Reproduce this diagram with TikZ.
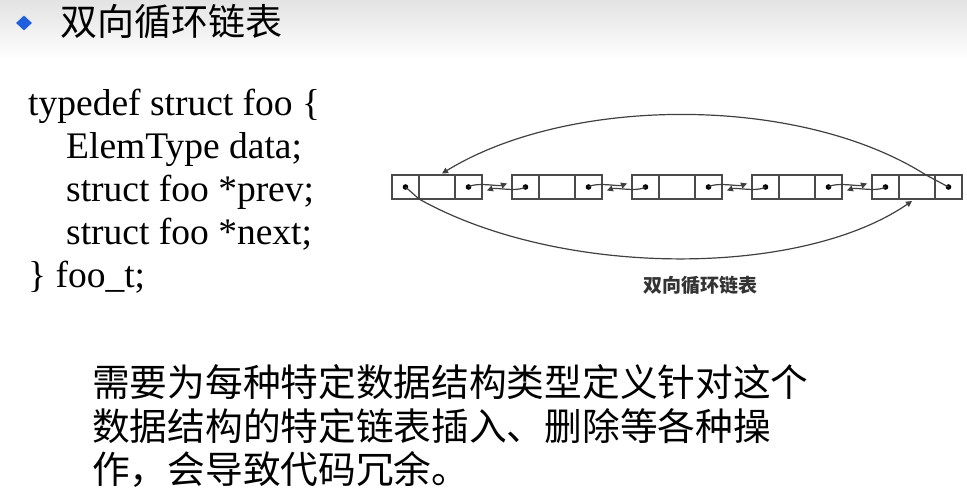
\documentclass[tikz,border=0pt]{standalone}
\usepackage{fontspec}
\setmainfont{Liberation Serif}
\newfontfamily\cjk{Noto Sans CJK SC}
\usetikzlibrary{positioning,shapes.geometric,arrows.meta}
\definecolor{bulletblue}{HTML}{1F5FE0}
\definecolor{boxgray}{HTML}{4A4A4A}
\begin{document}
\begin{tikzpicture}[x=1pt, y=1pt,
    ptrcell/.style={draw=boxgray, line width=1.1pt, minimum width=27pt, minimum height=24pt, inner sep=0pt, outer sep=0pt},
    datacell/.style={ptrcell, minimum width=36pt},
    link/.style={draw=black!75, line width=1.2pt, -{Triangle[length=6pt,width=6pt]}},
    codetext/.style={font=\fontsize{37.5}{43}\selectfont, align=left, inner sep=0pt},
    cjktext/.style={font=\cjk\fontsize{37.7}{43.5}\selectfont, align=left, inner sep=0pt}]
  \useasboundingbox (0,0) rectangle (967,500);
  \shade[top color=gray!22, bottom color=white] (0,440) rectangle (967,500);
  % title
  \node[diamond, fill=bulletblue, inner sep=0pt, minimum width=16pt, minimum height=15pt] (bullet) at (24,477) {};
  \node[font=\cjk\fontsize{37}{40}\selectfont, anchor=west, inner sep=0pt] (title) at (60,478) {双向循环链表};
  % struct
  \node[codetext, anchor=base west] (code) at (28,212) {typedef struct foo \{\\
    \hspace*{38pt}ElemType data;\\
    \hspace*{38pt}struct foo *prev;\\
    \hspace*{38pt}struct foo *next;\\
    \} foo\_t;};
  % list nodes
  \node[ptrcell] (p1) at (405.5,313) {};
  \node[datacell, right=0pt of p1] (d1) {};
  \node[ptrcell, right=0pt of d1] (n1) {};
  \node[ptrcell, right=30pt of n1] (p2) {};
  \node[datacell, right=0pt of p2] (d2) {};
  \node[ptrcell, right=0pt of d2] (n2) {};
  \node[ptrcell, right=30pt of n2] (p3) {};
  \node[datacell, right=0pt of p3] (d3) {};
  \node[ptrcell, right=0pt of d3] (n3) {};
  \node[ptrcell, right=30pt of n3] (p4) {};
  \node[datacell, right=0pt of p4] (d4) {};
  \node[ptrcell, right=0pt of d4] (n4) {};
  \node[ptrcell, right=30pt of n4] (p5) {};
  \node[datacell, right=0pt of p5] (d5) {};
  \node[ptrcell, right=0pt of d5] (n5) {};
  \foreach \c in {p1,n1,p2,n2,p3,n3,p4,n4,p5,n5}
    \fill (\c) circle (2.8);
  % next / prev links
  \foreach \a/\b in {1/2,2/3,3/4,4/5} {
    \draw[link] (n\a.center) to[out=35, in=200, looseness=0.6] ([xshift=-5pt, yshift=3.5pt]p\b.west);
    \draw[link] (p\b.center) to[out=215, in=20, looseness=0.6] ([xshift=5pt, yshift=-3.5pt]n\a.east);
  }
  % wrap-around links
  \draw[link] (n5.center) -- ([xshift=9pt]d5.north)
    .. controls (800,405) and (570,405) .. ([xshift=5pt, yshift=1.5pt]d1.north);
  \draw[link] (p1.center) -- (d1.south west)
    .. controls (560,222) and (800,222) .. ([xshift=-5pt, yshift=-2pt]d5.south);
  \node[font=\cjk\bfseries\fontsize{19}{21}\selectfont, text=black!80, inner sep=0pt] (caption) at (700,215) {双向循环链表};
  % remark
  \node[cjktext, anchor=base west] (remark) at (92,16) {需要为每种特定数据结构类型定义针对这个\\
    数据结构的特定链表插入、删除等各种操\\
    作，会导致代码冗余。};
\end{tikzpicture}
\end{document}
